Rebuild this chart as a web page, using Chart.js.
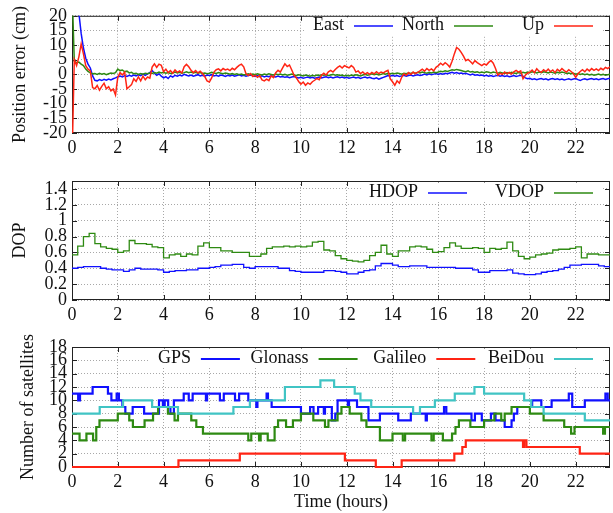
<!DOCTYPE html>
<html>
<head>
<meta charset="utf-8">
<script src="https://cdn.jsdelivr.net/npm/chart.js@4.4.1/dist/chart.umd.min.js"></script>
<style>
  html, body { margin: 0; padding: 0; background: #fff; }
  #wrap { position: relative; width: 613px; height: 513px; }
  #wrap canvas { position: absolute; left: 0; }
</style>
</head>
<body>
<div id="wrap">
  <canvas id="posChart" width="613" height="160" style="top:0"></canvas>
  <canvas id="dopChart" width="613" height="165" style="top:160px"></canvas>
  <canvas id="satChart" width="613" height="188" style="top:325px"></canvas>
</div>
<script>
// position error, one value every 0.1 h (cm)
const posStep = 0.1;
const eastCm = [
  40, 34, 27, 21, 14, 9, 5.5, 3.5, 2.2, -0.5,
  -2, -2.2, -1.8, -2.1, -1.7, -2, -1.6, -1.9, -1.5, -1.2,
  -0.8, -0.6, -0.9, -0.4, -0.7, -0.3, -0.6, -0.2, -0.5, -0.1,
  -0.4, 0.1, -0.3, 0.2, 0.6, 1.3, 0.4, -0.3, 0.2, -0.6,
  -1.2, -0.8, -1.4, -0.5, -0.9, -0.3, -0.6, -0.2, -0.5, 0,
  -0.3, -0.5, -0.2, -0.6, -0.4, -0.1, -0.5, -0.3, -0.6, -0.2,
  -0.4, -0.1, -0.5, -0.3, -0.6, -0.2, -0.4, -0.7, -0.3, -0.5,
  -0.2, -0.6, -0.4, -0.1, -0.5, -0.3, -0.6, -0.4, -0.2, -0.5,
  -0.7, -0.4, -0.8, -0.5, -0.9, -0.6, -0.8, -0.5, -0.7, -0.9,
  -0.6, -0.9, -0.7, -1.0, -0.8, -1.1, -0.9, -0.7, -1.0, -1.2,
  -1.0, -1.3, -1.1, -0.9, -1.2, -1.0, -1.3, -1.1, -0.9, -1.2,
  -1.0, -0.8, -1.1, -0.9, -1.2, -1.0, -0.8, -1.1, -0.9, -1.2,
  -1.0, -1.3, -1.1, -0.9, -1.2, -1.0, -1.4, -1.1, -0.9, -1.2,
  -1.0, -1.3, -1.5, -1.2, -1.6, -1.3, -1.0, -0.7, -0.4, -0.6,
  -0.3, -0.6, -0.4, -0.7, -0.5, -0.3, -0.6, -0.4, -0.2, -0.5,
  -0.3, -0.1, -0.4, -0.2, 0.1, -0.2, 0.2, -0.1, 0.1, 0.3,
  0, 0.3, 0.1, 0.4, 0.2, 0.5, 0.7, 0.4, 0.6, 0.3,
  0.5, 0.2, 0.4, 0.1, -0.2, 0.1, -0.3, -0.1, -0.4, -0.2,
  -0.5, -0.3, -0.6, -0.4, -0.7, -0.5, -0.3, -0.6, -0.4, -0.7,
  -0.5, -0.8, -0.6, -0.4, -0.7, -0.5, -0.3, -0.6, -1.2, -1.5,
  -1.3, -1.7, -1.5, -1.8, -1.6, -1.4, -1.7, -1.5, -1.9, -1.6,
  -1.4, -1.7, -1.5, -1.8, -1.6, -1.9, -1.7, -1.5, -1.8, -1.6,
  -1.4, -1.8, -2.1, -1.7, -1.5, -1.8, -1.6, -1.4, -1.7, -1.5,
  -1.8, -1.6, -1.4, -1.7, -1.5, -1.3
];
const northCm = [
  30, 4.5, 4, 4.2, 3.5, 3, 1.8, 1, 0.5, 0.2,
  0.3, 0, 0.4, 0.1, 0.3, -0.1, 0.2, 0.5, 0.3, 0.6,
  1.8, 1.3, 1.5, 0.9, 1.1, 0.5, 0.7, 0.2, 0.4, 0,
  0.3, 0.1, 0.4, 0.2, 0.5, 0.3, 0.6, 0.4, 0.8, 0.5,
  0.7, 0.4, 0.6, 0.3, 0.5, 0.8, 0.5, 0.7, 0.4, 0.6,
  0.9, 0.6, 0.8, 0.5, 0.7, 0.4, 0.6, 0.3, 0.5, 0.2,
  0.4, 0.7, 0.5, 0.3, 0.6, 0.4, 0.2, 0.5, 0.3, 0.1,
  0.3, 0, 0.2, -0.1, 0.1, -0.2, 0, 0.2, -0.1, 0.1,
  -0.1, 0.2, 0, -0.2, 0.1, -0.1, 0.2, 0, -0.2, 0.1,
  -0.1, 0.1, -0.2, 0, -0.3, -0.1, 0.1, -0.2, -0.4, -0.1,
  -0.3, -0.5, -0.2, -0.4, -0.6, -0.3, -0.5, -0.2, -0.4, -0.1,
  -0.3, -0.1, -0.4, -0.2, 0, -0.3, -0.1, -0.4, -0.2, -0.5,
  -0.3, -0.5, -0.2, -0.4, -0.1, -0.3, -0.5, -0.2, 0, -0.3,
  -0.1, 0.2, -0.1, 0.1, -0.2, 0, 0.3, 0.1, 0.4, 0.2,
  0.4, 0.2, 0.5, 0.3, 0.1, 0.4, 0.2, 0.5, 0.3, 0.6,
  0.4, 0.7, 0.5, 0.8, 0.6, 0.4, 0.7, 0.5, 0.8, 0.6,
  0.8, 1.1, 0.9, 1.2, 1.0, 1.3, 1.6, 1.4, 1.7, 1.5,
  1.3, 1.1, 0.9, 1.2, 0.8, 1.0, 0.7, 0.9, 0.6, 0.8,
  0.6, 0.9, 0.7, 0.5, 0.8, 0.6, 0.4, 0.7, 0.5, 0.3,
  0.6, 0.4, 0.7, 0.5, 0.3, 0.6, 0.4, 0.7, 0.5, 0.8,
  0.6, 0.9, 0.7, 0.5, 0.8, 0.6, 0.9, 0.7, 0.5, 0.8,
  0.6, 0.4, 0.7, 0.5, 0.8, 0.6, 0.3, 0.5, 0.2, 0.4,
  0.1, 0.3, 0, 0.2, -0.1, 0.1, -0.2, 0, -0.3, -0.1,
  0.1, -0.2, 0, -0.3, -0.1, 0.1
];
const upCm = [
  -30, 5, 3, 6, 10.4, 7, 3, 1.8, 1.2, -4.5,
  -4.9, -3.8, -5.4, -4.1, -3, -4.9, -4.2, -5.6, -5, -7,
  -1, 0.6, -0.2, 0.8, -4.9, -4.2, -3.5, -1.5, -2.4, -0.8,
  -2.2, -0.6, -1.8, -0.9, -1.3, 2.5, 3.6, 2.4, 3.5, 3.1,
  0.9, 1.8, 0.6, 1.3, 0.4, 1.5, 0.7, 1.2, 0.5, 2.6,
  3.4, 2.6, 1.4, 0.6, 1.3, 0.5, 1.1, 0.3, -0.8, -2.2,
  -2.6, -1.2, 0.8, 1.6, 1.9, 1.2, 2, 1.5, 1.8, 1.3,
  2.1, 1.6, 2.4, 3.1, 3.5, 2.6, 0.2, -0.4, 0.3, -0.7,
  -0.3, -1, -0.4, -1.9, -2.2, -1.6, -2.1, -0.5, -1.1, 0.6,
  1.4, 0.8, 2.2, 3.6, 2.7, 3.2, 1.5, -0.3, -1.2, -2.4,
  -3.3, -2.6, -3.7, -2.9, -3.4, -2.5, -2, -1.4, -1.8, -0.3,
  0.4, -0.2, 0.9, 1.4, 0.8, 1.7, 2.4, 2.9, 2.2, 3,
  2.6, 2.2, 3, 2.4, 0.8, 1.2, 0.3, 0.8, 0.1, 0.6,
  0, 0.7, 0.2, 0.9, 0.3, 0.8, 0.5, 1, 1.4, -1.5,
  -2.5, -3.7, -2.2, -3, -1, 0.2, -0.3, 0.6, 0, 0.8,
  0.3, 0.7, 1.2, 1.8, 1.1, 2, 1.4, 1.9, 1.2, 2.4,
  3, 3.8, 3.2, 4, 3.4, 2.5, 4.5, 7, 9.2, 8.6,
  7.5, 6.2, 4.7, 5.1, 4.4, 3.6, 4.7, 4, 3.5, 3,
  3.6, 3.2, 4.1, 4.7, 3.8, 2, -0.3, 0.4, 0, 0.8,
  0.2, 0.7, 0.1, 0.9, 1.4, 0.8, 1.2, -1.5, -0.3, 0.4,
  0.8, 1.5, 0.6, 1.9, 1.1, 0.7, 1.6, 1, 1.8, 0.9,
  1.5, 0.6, 1.7, 1.1, 2, 1.3, 0.8, 1.6, 1, 0.3,
  -1, 0.2, 1, 1.6, 0.9, 1.8, 1.2, 2, 1.4, 1.9,
  1.3, 2.1, 1.6, 2.4, 2, 2.6
];

// DOP, one value every 0.25 h
const dopStep = 0.25;
const hdop = [
  0.40, 0.41, 0.42, 0.42,  0.42, 0.40, 0.39, 0.38,  0.38, 0.36, 0.38, 0.40,
  0.39, 0.39, 0.39, 0.38,  0.35, 0.36, 0.37, 0.37,  0.38, 0.38, 0.40, 0.40,
  0.41, 0.42, 0.44, 0.44,  0.45, 0.45, 0.41, 0.40,  0.42, 0.42, 0.42, 0.42,
  0.40, 0.40, 0.37, 0.36,  0.35, 0.35, 0.35, 0.35,  0.37, 0.37, 0.36, 0.35,
  0.33, 0.33, 0.35, 0.37,  0.38, 0.43, 0.46, 0.46,  0.44, 0.42, 0.42, 0.43,
  0.43, 0.43, 0.41, 0.41,  0.41, 0.41, 0.41, 0.40,  0.40, 0.40, 0.38, 0.35,
  0.35, 0.37, 0.37, 0.37,  0.38, 0.34, 0.33, 0.32,  0.32, 0.33, 0.35, 0.36,
  0.37, 0.39, 0.41, 0.44,  0.44, 0.45, 0.45, 0.45,  0.43, 0.42, 0.42
];
const vdop = [
  0.57, 0.68, 0.80, 0.84,  0.71, 0.67, 0.65, 0.64,  0.60, 0.62, 0.75, 0.71,
  0.71, 0.70, 0.67, 0.66,  0.53, 0.57, 0.58, 0.55,  0.58, 0.57, 0.68, 0.72,
  0.66, 0.66, 0.62, 0.62,  0.60, 0.60, 0.60, 0.55,  0.55, 0.58, 0.65, 0.67,
  0.67, 0.68, 0.67, 0.68,  0.67, 0.68, 0.73, 0.74,  0.63, 0.62, 0.56, 0.52,
  0.50, 0.49, 0.48, 0.50,  0.56, 0.60, 0.69, 0.58,  0.55, 0.62, 0.62, 0.67,
  0.68, 0.67, 0.64, 0.60,  0.61, 0.66, 0.72, 0.68,  0.65, 0.65, 0.66, 0.65,
  0.60, 0.65, 0.64, 0.65,  0.73, 0.62, 0.55, 0.52,  0.54, 0.57, 0.58, 0.59,
  0.63, 0.64, 0.64, 0.65,  0.67, 0.53, 0.58, 0.58,  0.57, 0.57, 0.56
];

// satellites: hour where the count changes, and the new count
const gpsHours = [0, 0.27, 0.35, 0.9, 1.57, 1.72, 1.95, 2.05, 2.2, 2.33, 2.65, 3.15, 3.8, 3.97, 4.05,
  4.2, 4.3, 4.45, 4.88, 5.1, 5.27, 5.85, 5.9, 6.46, 6.63, 7.12, 7.3, 7.7, 8.05, 8.1, 8.5, 8.56, 8.72,
  10.0, 10.4, 10.55, 10.75, 11.0, 11.05, 11.35, 11.5, 11.6, 12.05, 12.1, 12.45, 12.95, 13.45, 14.25,
  14.8, 15.45, 15.5, 16.25, 16.35, 17.45, 17.6, 17.9, 18.3, 18.5, 18.9, 19.2, 19.3, 19.45, 20.1,
  20.5, 20.95, 21.7, 21.85, 22.4, 23.3, 23.4, 23.5];
const gpsCount = [11, 10, 11, 12, 11, 10, 11, 10, 9, 8, 9, 8, 10, 9, 10,
  9, 8, 10, 11, 10, 11, 10, 11, 10, 11, 10, 11, 10, 9, 10, 11, 10, 9,
  8, 9, 8, 9, 8, 9, 7, 8, 10, 9, 10, 9, 7, 8, 7,
  8, 7, 8, 9, 8, 7, 8, 7, 8, 7, 6, 7, 8, 9, 10,
  9, 10, 11, 9, 10, 11, 10, 10];
const glonassHours = [0, 0.33, 0.63, 0.92, 1.06, 1.2, 2.0, 2.5, 2.66, 3.17, 3.54, 3.76, 4.19, 4.48,
  4.63, 5.21, 5.43, 5.72, 7.7, 7.83, 8.17, 8.24, 8.55, 8.85, 9.0, 9.35, 9.65, 10.0, 10.54, 11.05,
  11.2, 11.6, 11.77, 12.13, 12.64, 12.86, 13.45, 14.0, 14.45, 14.55, 15.7, 15.8, 16.2, 16.6, 16.75,
  16.9, 17.4, 18.0, 18.45, 18.75, 18.9, 19.2, 20.0, 20.6, 21.5, 21.8, 21.95, 23.2, 23.28, 23.5];
const glonassCount = [5, 4, 5, 4, 6, 7, 8, 7, 6, 7, 8, 9, 8, 7,
  8, 7, 6, 5, 4, 5, 4, 5, 4, 6, 7, 6, 7, 8, 7, 6,
  7, 8, 9, 8, 7, 6, 4, 5, 4, 5, 4, 5, 4, 5, 6,
  7, 6, 7, 8, 7, 8, 9, 8, 7, 6, 5, 6, 5, 6, 6];
const galileoHours = [0, 4.65, 7.33, 11.92, 13.27, 14.4, 16.7, 17.05, 17.2, 19.7, 19.75, 19.85, 22.18, 23.5];
const galileoCount = [0, 1, 2, 1, 0, 1, 2, 3, 4, 3, 4, 3, 2, 2];
const beidouHours = [0, 1.21, 2.23, 3.5, 4.63, 7.05, 7.77, 9.3, 10.85, 11.45, 12.35, 12.6, 13.07,
  14.9, 15.2, 15.85, 16.72, 17.58, 18.0, 19.75, 20.06, 20.6, 22.4, 23.5];
const beidouCount = [8, 9, 10, 9, 8, 9, 10, 12, 13, 12, 11, 10, 9,
  8, 9, 10, 11, 12, 11, 10, 9, 8, 7, 7];

// axis ticks
const hourTicks = [0, 2, 4, 6, 8, 10, 12, 14, 16, 18, 20, 22];
const posTicks = [-20, -15, -10, -5, 0, 5, 10, 15, 20];
const dopTicks = [0, 0.2, 0.4, 0.6, 0.8, 1, 1.2, 1.4];
const satTicks = [0, 2, 4, 6, 8, 10, 12, 14, 16, 18];

const FONT = 'Liberation Serif';
const FONT_SIZE = 18;
const BLUE = '#1010ff', GREEN = '#2e8a12', RED = '#ff2414', CYAN = '#40c4c4';

Chart.defaults.font.family = FONT;
Chart.defaults.font.size = FONT_SIZE;
Chart.defaults.color = '#111';

function sampled(step, values) {
  return values.map((v, i) => ({ x: +(i * step).toFixed(2), y: v }));
}
function paired(hours, values) {
  return values.map((v, i) => ({ x: hours[i], y: v }));
}

// gnuplot-like frame, inward tics and opaque key
const gnuKey = {
  id: 'gnuKey',
  beforeDatasetsDraw(chart) {
    const { ctx, chartArea: a, scales } = chart;
    ctx.save();
    ctx.strokeStyle = '#222';
    ctx.lineWidth = 1;
    ctx.strokeRect(a.left + 0.5, a.top + 0.5, a.right - a.left - 1, a.bottom - a.top - 1);
    ctx.beginPath();
    scales.x.ticks.forEach(t => {
      const x = Math.round(scales.x.getPixelForValue(t.value)) + 0.5;
      ctx.moveTo(x, a.bottom); ctx.lineTo(x, a.bottom - 5);
      ctx.moveTo(x, a.top); ctx.lineTo(x, a.top + 5);
    });
    scales.y.ticks.forEach(t => {
      const y = Math.round(scales.y.getPixelForValue(t.value)) + 0.5;
      ctx.moveTo(a.left, y); ctx.lineTo(a.left + 5, y);
      ctx.moveTo(a.right, y); ctx.lineTo(a.right - 5, y);
    });
    ctx.stroke();
    ctx.restore();
  },
  afterDraw(chart, args, opts) {
    const { ctx, chartArea: a } = chart;
    const sets = chart.data.datasets;
    const n = sets.length;
    ctx.save();
    ctx.font = FONT_SIZE + 'px ' + FONT;
    const items = sets.map((ds, i) => {
      const end = opts.right - (n - 1 - i) * opts.spacing;
      return { ds, end, start: end - 39, textRight: end - 49 };
    });
    const left = items[0].textRight - ctx.measureText(items[0].ds.label).width - 8;
    const top = Math.max(opts.y - 10, a.top + 1.5);
    ctx.fillStyle = '#fff';
    ctx.fillRect(left, top, opts.right + 10 - left, opts.y + 10 - top);
    ctx.textAlign = 'right';
    ctx.textBaseline = 'middle';
    items.forEach(it => {
      ctx.fillStyle = '#111';
      ctx.fillText(it.ds.label, it.textRight, opts.y);
      ctx.strokeStyle = it.ds.borderColor;
      ctx.lineWidth = it.ds.borderWidth;
      ctx.beginPath();
      ctx.moveTo(it.start, opts.y + 1);
      ctx.lineTo(it.end, opts.y + 1);
      ctx.stroke();
    });
    ctx.restore();
  }
};

function makeChart(id, cfg) {
  return new Chart(document.getElementById(id), {
    type: 'line',
    data: { datasets: cfg.datasets },
    options: {
      responsive: false,
      animation: false,
      devicePixelRatio: 1,
      layout: { padding: { top: cfg.top, right: 3, left: 0, bottom: 0 } },
      elements: { point: { radius: 0 }, line: { tension: 0 } },
      plugins: { legend: { display: false }, tooltip: { enabled: false }, gnuKey: cfg.key },
      scales: {
        x: {
          type: 'linear', min: 0, max: 23.5,
          afterBuildTicks: s => { s.ticks = hourTicks.map(v => ({ value: v })); },
          afterFit: s => { s.height = cfg.xHeight; },
          grid: { color: '#a8a8a8', drawTicks: false },
          border: { display: false, dash: [1, 2] },
          ticks: { padding: 4, maxRotation: 0, autoSkip: false, callback: v => String(v) },
          title: cfg.xTitle || { display: false }
        },
        y: {
          min: cfg.yMin, max: cfg.yMax,
          afterBuildTicks: s => { s.ticks = cfg.yTicks.map(v => ({ value: v })); },
          afterFit: s => { s.width = 72; },
          grid: { color: '#a8a8a8', drawTicks: false },
          border: { display: false, dash: [1, 2] },
          ticks: { padding: 5, autoSkip: false, callback: v => String(+v.toFixed(1)) },
          title: { display: true, text: cfg.yTitle, padding: { top: cfg.yTitlePad, bottom: 0 } }
        }
      }
    },
    plugins: [gnuKey]
  });
}

makeChart('posChart', {
  top: 15, xHeight: 27, yMin: -20, yMax: 20, yTicks: posTicks,
  yTitle: 'Position error (cm)', yTitlePad: 9,
  key: { right: 593, spacing: 100, y: 25 },
  datasets: [
    { label: 'East', data: sampled(posStep, eastCm), borderColor: BLUE, borderWidth: 1.5, order: 2 },
    { label: 'North', data: sampled(posStep, northCm), borderColor: GREEN, borderWidth: 1.5, order: 1 },
    { label: 'Up', data: sampled(posStep, upCm), borderColor: RED, borderWidth: 1.5, order: 0 }
  ]
});

makeChart('dopChart', {
  top: 21, xHeight: 25, yMin: 0, yMax: 1.5, yTicks: dopTicks,
  yTitle: 'DOP', yTitlePad: 9,
  key: { right: 593, spacing: 126, y: 32 },
  datasets: [
    { label: 'HDOP', data: sampled(dopStep, hdop), borderColor: BLUE, borderWidth: 1.3, stepped: true, order: 1 },
    { label: 'VDOP', data: sampled(dopStep, vdop), borderColor: GREEN, borderWidth: 1.3, stepped: true, order: 0 }
  ]
});

makeChart('satChart', {
  top: 22, xHeight: 46, yMin: 0, yMax: 18, yTicks: satTicks,
  yTitle: 'Number of satellites', yTitlePad: 17,
  xTitle: { display: true, text: 'Time (hours)', padding: { top: 2, bottom: 0 } },
  key: { right: 593, spacing: 117.7, y: 33 },
  datasets: [
    { label: 'GPS', data: paired(gpsHours, gpsCount), borderColor: BLUE, borderWidth: 2.2, stepped: true, order: 3, clip: 3 },
    { label: 'Glonass', data: paired(glonassHours, glonassCount), borderColor: GREEN, borderWidth: 2.2, stepped: true, order: 2, clip: 3 },
    { label: 'Galileo', data: paired(galileoHours, galileoCount), borderColor: RED, borderWidth: 2.2, stepped: true, order: 1, clip: 3 },
    { label: 'BeiDou', data: paired(beidouHours, beidouCount), borderColor: CYAN, borderWidth: 2.2, stepped: true, order: 0, clip: 3 }
  ]
});
</script>
</body>
</html>
